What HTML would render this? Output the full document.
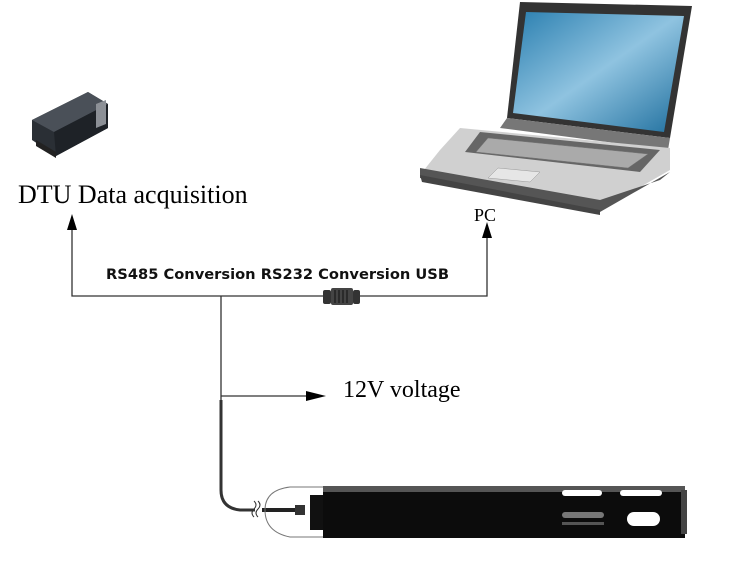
<!DOCTYPE html>
<html><head><style>body{margin:0;background:#fff}svg{display:block}</style></head><body>
<svg width="750" height="574" viewBox="0 0 750 574" xmlns="http://www.w3.org/2000/svg">
<rect width="750" height="574" fill="#fff"/>
<!-- DTU device -->
<g>
<polygon points="32,120 88,92 108,104 108,128 56,156 32,140" fill="#2a2f35"/>
<polygon points="32,120 88,92 108,104 54,132" fill="#4a5058"/>
<polygon points="54,132 108,104 108,128 56,156" fill="#1e2227"/>
<polygon points="36,140 56,152 56,158 36,146" fill="#222"/>
<polygon points="96,104 106,100 106,124 96,128" fill="#8c9096"/>
</g>
<text x="18" y="203" font-family="Liberation Serif,serif" font-size="26" fill="#000">DTU Data acquisition</text>
<!-- Laptop -->
<g>
<polygon points="520,2 692,6 670,138 507,118" fill="#333"/>
<defs><linearGradient id="sc" x1="0" y1="0" x2="1" y2="1"><stop offset="0" stop-color="#2a7fb0"/><stop offset="0.5" stop-color="#8fc3e0"/><stop offset="1" stop-color="#1f6f9e"/></linearGradient></defs>
<polygon points="526,12 684,16 664,132 513,113" fill="url(#sc)"/>
<polygon points="507,118 670,138 668,150 500,128" fill="#777"/>
<polygon points="460,128 670,148 670,170 600,210 420,175 440,150" fill="#d0d0d0"/>
<polygon points="480,132 660,150 640,172 465,152" fill="#666"/>
<polygon points="488,138 648,154 628,168 476,152" fill="#aaa" stroke="#777" stroke-width="0.5"/>
<polygon points="420,168 600,200 660,180 670,172 600,212 420,178" fill="#555"/>
<polygon points="420,175 600,210 600,215 422,182" fill="#444"/>
<polygon points="498,168 540,172 530,182 488,178" fill="#e6e6e6" stroke="#999" stroke-width="0.5"/>
</g>
<text x="474" y="221" font-family="Liberation Serif,serif" font-size="18" fill="#000">PC</text>
<!-- connectors -->
<g stroke="#333" stroke-width="1.3" fill="none">
<polyline points="72,222 72,296 487,296 487,232"/>
<line x1="221" y1="296" x2="221" y2="400"/>
<line x1="221" y1="396" x2="310" y2="396"/>
</g>
<polygon points="72,214 67,230 77,230" fill="#000"/>
<polygon points="487,222 482,238 492,238" fill="#000"/>
<polygon points="326,396 306,391 306,401" fill="#000"/>
<!-- adapter -->
<rect x="323" y="290" width="8" height="14" rx="2" fill="#333"/>
<rect x="331" y="288" width="22" height="17" rx="2" fill="#444"/>
<rect x="353" y="290" width="7" height="14" rx="2" fill="#333"/>
<g stroke="#111" stroke-width="1"><line x1="335" y1="290" x2="335" y2="303"/><line x1="339" y1="290" x2="339" y2="303"/><line x1="343" y1="290" x2="343" y2="303"/><line x1="347" y1="290" x2="347" y2="303"/></g>
<text x="106" y="279" font-family="DejaVu Sans,Liberation Sans,sans-serif" font-weight="bold" font-size="14.5" textLength="343" lengthAdjust="spacingAndGlyphs" fill="#111">RS485 Conversion RS232 Conversion USB</text>
<text x="343" y="397" font-family="Liberation Serif,serif" font-size="24" fill="#000">12V voltage</text>
<!-- cable -->
<path d="M221,400 L221,490 Q221,508 240,510 L255,510" stroke="#333" stroke-width="3" fill="none"/>
<path d="M254,501 q4,4 0,8 q-4,4 0,8 M258,501 q4,4 0,8 q-4,4 0,8" stroke="#333" stroke-width="1" fill="none"/>
<line x1="262" y1="510" x2="300" y2="510" stroke="#222" stroke-width="4"/>
<rect x="295" y="505" width="10" height="10" fill="#333"/>
<!-- probe -->
<path d="M323,487 L290,487 Q265,490 265,510 Q265,532 290,537 L323,537" stroke="#777" stroke-width="1" fill="none"/>
<rect x="310" y="495" width="15" height="35" fill="#111"/>
<rect x="323" y="486" width="362" height="52" fill="#0c0c0c"/>
<rect x="323" y="486" width="362" height="6" fill="#555"/>
<rect x="562" y="490" width="40" height="6" rx="3" fill="#fff"/>
<rect x="620" y="490" width="42" height="6" rx="3" fill="#fff"/>
<rect x="562" y="512" width="42" height="6" rx="3" fill="#777"/>
<rect x="562" y="522" width="42" height="3" fill="#555"/>
<rect x="627" y="512" width="33" height="14" rx="7" fill="#fff"/>
<rect x="681" y="490" width="6" height="44" fill="#444"/>
</svg>
</body></html>
